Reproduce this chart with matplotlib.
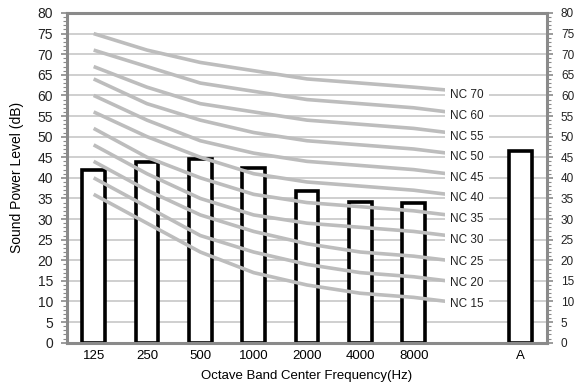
import numpy as np
import matplotlib.pyplot as plt
from matplotlib.ticker import MultipleLocator

plt.rcParams['font.family'] = ['Liberation Sans', 'DejaVu Sans']

bands = ["125", "250", "500", "1000", "2000", "4000", "8000", "", "A"]
band_levels = [42.0, 43.9, 44.5, 42.4, 36.9, 34.2, 33.9]
a_level = 46.5

# NC curves, values at 125..8000 Hz
nc_curves = {
    65: [75, 71, 68, 66, 64, 63, 62],
    60: [71, 67, 63, 61, 59, 58, 57],
    55: [67, 62, 58, 56, 54, 53, 52],
    50: [64, 58, 54, 51, 49, 48, 47],
    45: [60, 54, 49, 46, 44, 43, 42],
    40: [56, 50, 45, 41, 39, 38, 37],
    35: [52, 45, 40, 36, 34, 33, 32],
    30: [48, 41, 35, 31, 29, 28, 27],
    25: [44, 37, 31, 27, 24, 22, 21],
    20: [40, 33, 26, 22, 19, 17, 16],
    15: [36, 29, 22, 17, 14, 12, 11],
}
nc_end = [61.3, 56, 51, 46, 41, 36, 31, 26, 20, 15, 10]
nc_labels = ["NC 70", "NC 60", "NC 55", "NC 50", "NC 45", "NC 40",
             "NC 35", "NC 30", "NC 25", "NC 20", "NC 15"]
nc_label_y = [60, 55, 50, 45, 40, 35, 30, 25, 19.5, 14.5, 9.5]

fig = plt.figure(figsize=(5.74, 3.89), dpi=100)
ax = fig.add_axes([0.1167, 0.119, 0.8363, 0.8476])

x = np.arange(len(bands))
spine_col = "#8a8a8a"

# bars
ax.bar(x[:7], band_levels, width=0.42, facecolor="white", edgecolor="black",
       linewidth=2.6, zorder=2)
ax.bar([8], [a_level], width=0.42, facecolor="white", edgecolor="black",
       linewidth=2.6, zorder=2)

# NC curves
x_nc = list(x[:7]) + [6.63]
for (nc, vals), end in zip(nc_curves.items(), nc_end):
    ax.plot(x_nc, vals + [end], color="#bdbdbd", linewidth=2.6,
            solid_joinstyle="round", solid_capstyle="butt", zorder=3)

for lab, yv in zip(nc_labels, nc_label_y):
    ax.text(7, yv, lab, ha="center", va="center", fontsize=8.5, color="#222222",
            bbox=dict(facecolor="white", edgecolor="none", pad=3.5), zorder=4)

ax.set_xlim(-0.5, 8.5)
ax.set_ylim(0, 80)
ax.set_xticks(x)
ax.set_xticklabels(bands, fontsize=9.5)
ax.tick_params(axis="x", length=0, pad=5)

ax.yaxis.set_major_locator(MultipleLocator(5))
ax.yaxis.set_minor_locator(MultipleLocator(1))
ax.tick_params(axis="y", which="both", left=True, right=True,
               labelleft=True, labelright=True, direction="out",
               colors=spine_col, labelcolor="#222222", labelsize=10)
ax.tick_params(axis="y", which="major", length=4, width=1.2, pad=6)
ax.tick_params(axis="y", which="minor", length=3, width=0.8)
for t in ax.yaxis.get_major_ticks():
    t.label2.set_fontsize(8.5)

ax.grid(axis="y", color="#cccccc", linewidth=1.3, zorder=0)
ax.set_axisbelow(True)
for s in ax.spines.values():
    s.set_color(spine_col)
    s.set_linewidth(2.2)

ax.set_ylabel("Sound Power Level (dB)", fontsize=10, labelpad=10)
ax.set_xlabel("Octave Band Center Frequency(Hz)", fontsize=9.5, labelpad=6)

fig.savefig("out.png", dpi=100)
